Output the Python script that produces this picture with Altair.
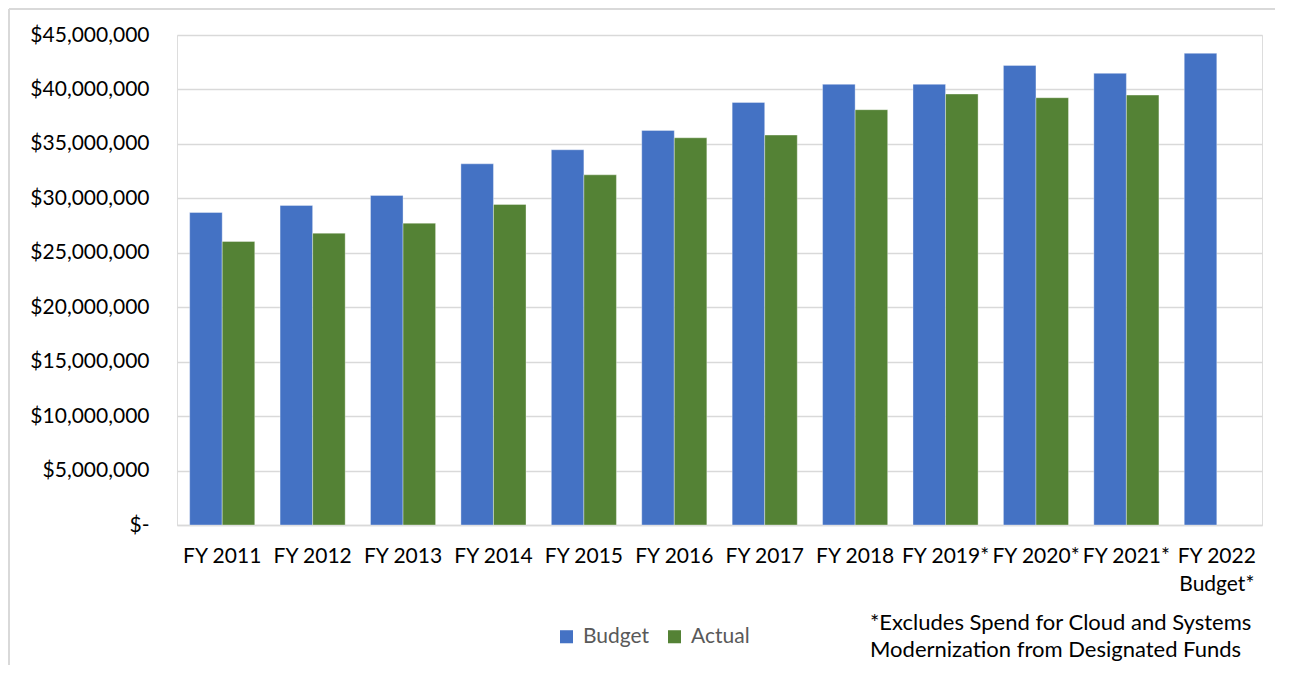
import altair as alt
import pandas as pd

categories = ["FY 2011", "FY 2012", "FY 2013", "FY 2014", "FY 2015", "FY 2016",
              "FY 2017", "FY 2018", "FY 2019*", "FY 2020*", "FY 2021*", "FY 2022|Budget*"]
budget = [28.70, 29.35, 30.27, 33.17, 34.46, 36.24, 38.81, 40.47, 40.47, 42.21, 41.48, 43.32]
actual = [26.04, 26.80, 27.72, 29.44, 32.16, 35.56, 35.81, 38.14, 39.58, 39.24, 39.48, None]
series = ["Budget", "Actual"]
colors = ["#4472C4", "#548235"]
note_lines = ["*Excludes Spend for Cloud and Systems", "Modernization from Designated Funds"]

rows = []
for i, c in enumerate(categories):
    rows.append({"cat": c, "series": "Budget", "value": budget[i] * 1e6})
    if actual[i] is not None:
        rows.append({"cat": c, "series": "Actual", "value": actual[i] * 1e6})
df = pd.DataFrame(rows)

FONT = "Lato"
FS = 21
W, H = 1085, 490

bars = alt.Chart(df).mark_bar(stroke="white", strokeWidth=0.6, strokeOpacity=0.6).encode(
    x=alt.X("cat:N", sort=categories,
            scale=alt.Scale(paddingInner=0.28, paddingOuter=0.14),
            axis=alt.Axis(title=None, labelAngle=0, labelExpr="split(datum.label, '|')",
                          labelFontSize=FS, labelFont=FONT, labelColor="#000000",
                          labelPadding=20, ticks=False, domainColor="#D9D9D9",
                          domainWidth=1.5, labelBaseline="top", labelLineHeight=28,
                          labelAlign="center")),
    xOffset=alt.XOffset("series:N", sort=series, scale=alt.Scale(paddingInner=0)),
    y=alt.Y("value:Q", scale=alt.Scale(domain=[0, 45e6], nice=False),
            axis=alt.Axis(title=None, values=[i * 5e6 for i in range(10)],
                          labelExpr="datum.value == 0 ? '$-' : '$' + format(datum.value, ',')",
                          labelFontSize=FS, labelFont=FONT, labelColor="#000000",
                          labelPadding=28, ticks=False, domain=False,
                          gridColor="#D9D9D9", gridWidth=1.5)),
    color=alt.Color("series:N", sort=series,
                    scale=alt.Scale(domain=series, range=colors),
                    legend=alt.Legend(title=None, orient="none", direction="horizontal",
                                      legendX=379, legendY=591, symbolType="square",
                                      symbolSize=170, symbolStrokeWidth=0,
                                      labelFontSize=FS, labelFont=FONT,
                                      labelColor="#595959", columnPadding=14,
                                      labelOffset=6)),
)

note = alt.Chart(pd.DataFrame({"t": [note_lines]})).mark_text(
    align="left", baseline="middle", fontSize=22, font=FONT, color="#000000",
    lineHeight=27
).encode(text="t:N", x=alt.value(693), y=alt.value(588))

border_left = alt.Chart(pd.DataFrame({"a": [0]})).mark_rule(color="#D9D9D9", strokeWidth=2).encode(
    x=alt.value(-168), y=alt.value(-26), y2=alt.value(640))
border_top = alt.Chart(pd.DataFrame({"a": [0]})).mark_rule(color="#D9D9D9", strokeWidth=2).encode(
    x=alt.value(-168), x2=alt.value(1098), y=alt.value(-26))

chart = alt.layer(border_left, border_top, bars, note).properties(
    width=W, height=H,
    autosize=alt.AutoSizeParams(type="none"),
    padding={"left": 169, "top": 27, "right": 13, "bottom": 140},
).configure_view(stroke=None).configure(background="white")

chart.save("out.html", embed_options={"renderer": "svg", "actions": False})
